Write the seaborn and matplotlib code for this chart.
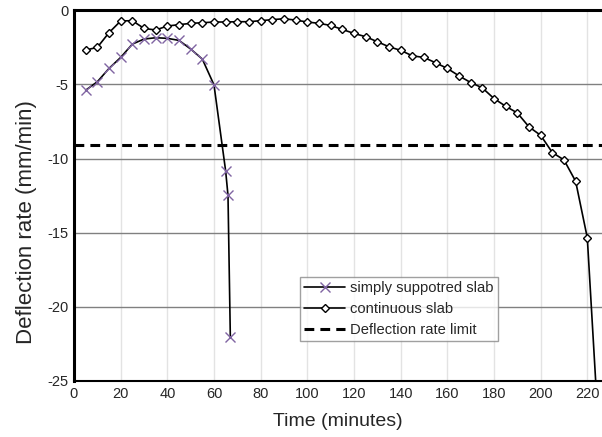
import matplotlib
matplotlib.use("Agg")
import matplotlib.pyplot as plt
import seaborn as sns
import pandas as pd

# ---- data ----
ss_time = [5, 10, 15, 20, 25, 30, 35, 40, 45, 50, 55, 60, 65, 66, 67]
ss_rate = [-5.39, -4.82, -3.92, -3.18, -2.28, -1.94, -1.85, -1.89, -2.03, -2.61,
           -3.29, -5.03, -10.84, -12.48, -22.0]

cs_time = [5, 10, 15, 20, 25, 30, 35, 40, 45, 50, 55, 60, 65, 70, 75, 80, 85, 90,
           95, 100, 105, 110, 115, 120, 125, 130, 135, 140, 145, 150, 155, 160,
           165, 170, 175, 180, 185, 190, 195, 200, 205, 210, 215, 220, 225]
cs_rate = [-2.68, -2.50, -1.51, -0.72, -0.70, -1.22, -1.33, -1.06, -0.97, -0.88,
           -0.84, -0.79, -0.79, -0.77, -0.77, -0.70, -0.63, -0.57, -0.66, -0.79,
           -0.88, -1.02, -1.29, -1.56, -1.78, -2.12, -2.46, -2.70, -3.07, -3.18,
           -3.54, -3.92, -4.42, -4.87, -5.23, -5.95, -6.47, -6.92, -7.86, -8.43,
           -9.59, -10.09, -11.53, -15.34, -28.8]

limit_rate = -9.1

x_ticks = [0, 20, 40, 60, 80, 100, 120, 140, 160, 180, 200, 220]
y_ticks = [0, -5, -10, -15, -20, -25]

labels = ["simply suppotred slab", "continuous slab", "Deflection rate limit"]

# ---- plot ----
sns.set_style("white")
plt.rcParams['font.family'] = ['Liberation Sans', 'DejaVu Sans']
plt.rcParams['axes.unicode_minus'] = False

fig = plt.figure(figsize=(6.02, 4.37), dpi=100)
ax = fig.add_axes([74/602, 1-381/437, 1-74/602, (381-10.3)/437])

ss = pd.DataFrame({"t": ss_time, "r": ss_rate})
cs = pd.DataFrame({"t": cs_time, "r": cs_rate})

purple = "#8064A2"
sns.lineplot(data=ss, x="t", y="r", ax=ax, sort=False, color="black", lw=1.2,
             marker="x", markersize=7.5, markeredgecolor=purple, markeredgewidth=1.0,
             label=labels[0], zorder=3)
sns.lineplot(data=cs, x="t", y="r", ax=ax, sort=False, color="black", lw=1.2,
             marker="D", markersize=4.5, markerfacecolor="white",
             markeredgecolor="black", markeredgewidth=1.0,
             label=labels[1], zorder=3)
ax.axhline(limit_rate, color="black", lw=2.2, ls=(0, (3.2, 2.0)), label=labels[2], zorder=2)

ax.set_xlim(0, 226.3)
ax.set_ylim(-25, 0)
ax.set_xticks(x_ticks)
ax.set_yticks(y_ticks)
ax.tick_params(axis='both', labelsize=10.5, length=0, pad=4)

# grids
for t in x_ticks[1:]:
    ax.axvline(t, color="#e3e3e3", lw=1.0, zorder=0)
for t in y_ticks[1:-1]:
    ax.axhline(t, color="#808080", lw=1.0, zorder=1)

for s in ["left", "top"]:
    ax.spines[s].set_linewidth(2.2)
    ax.spines[s].set_color("black")
ax.spines["bottom"].set_linewidth(1.5)
ax.spines["bottom"].set_color("black")
ax.spines["right"].set_visible(False)

ax.set_xlabel("Time (minutes)", fontsize=14, labelpad=9)
ax.set_ylabel("Deflection rate (mm/min)", fontsize=16)
ax.yaxis.set_label_coords(-0.07, 0.43)

leg = ax.legend(loc="lower left", bbox_to_anchor=(0.428, 0.108), borderaxespad=0,
                fontsize=10.6, frameon=True, fancybox=False, handlelength=2.8,
                handletextpad=0.35, labelspacing=0.48, borderpad=0.28)
leg.get_frame().set_edgecolor("#888888")
leg.get_frame().set_linewidth(1.0)

fig.savefig("out.png", dpi=100)
